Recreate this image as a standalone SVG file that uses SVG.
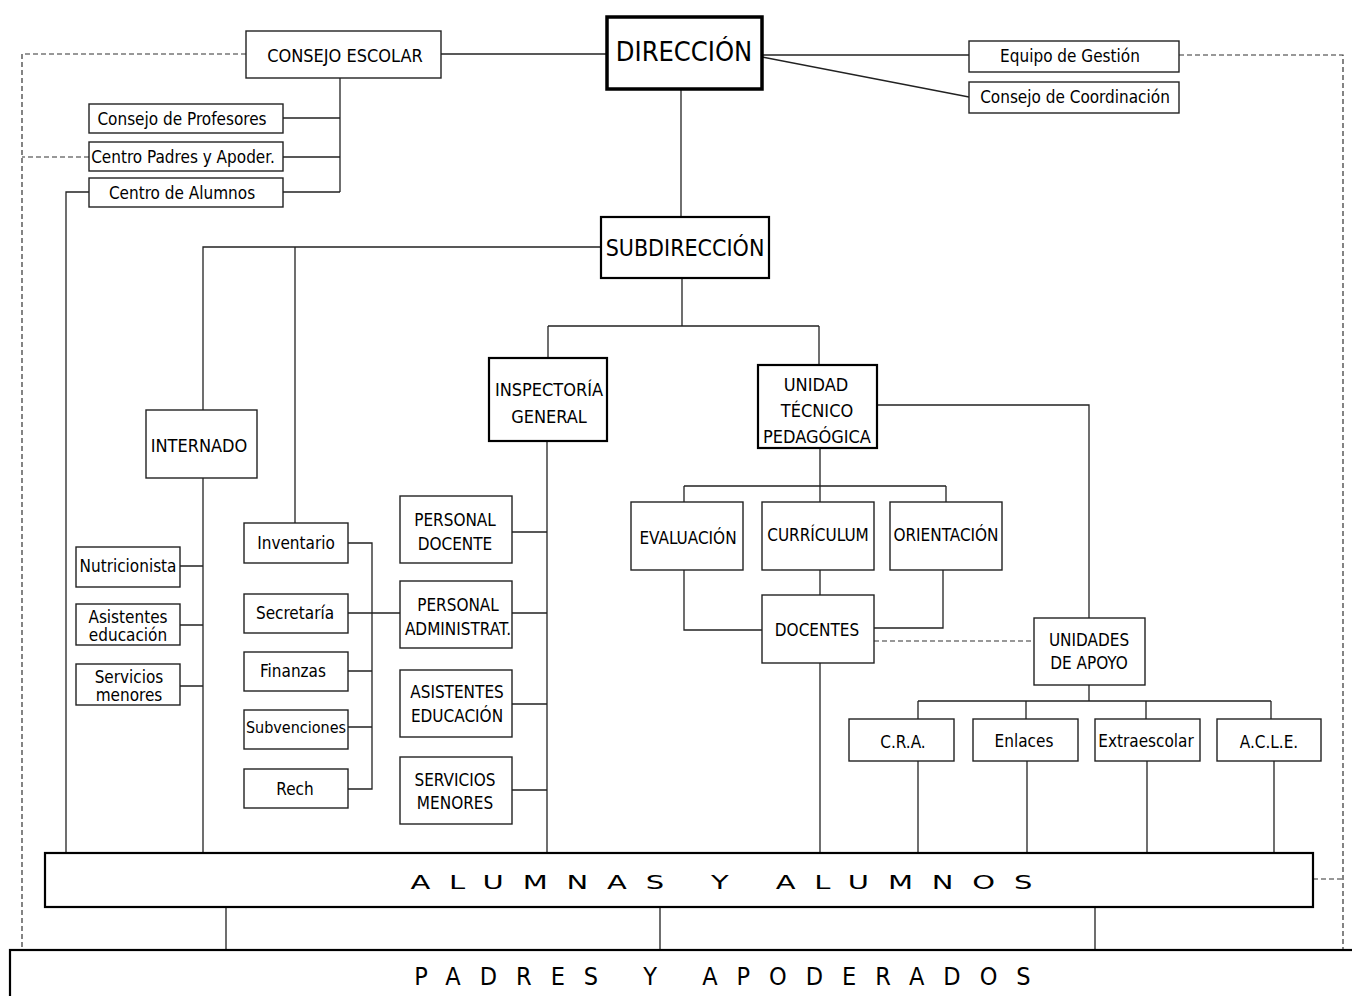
<svg xmlns="http://www.w3.org/2000/svg" width="1352" height="996" viewBox="0 0 1352 996">
<style>
.b{fill:#fff;stroke:#222;stroke-width:1.4}
.bt{fill:#fff;stroke:#000;stroke-width:2.2}
.bx{fill:#fff;stroke:#000;stroke-width:3.5}
.l{fill:none;stroke:#222;stroke-width:1.3}
.d{fill:none;stroke:#333;stroke-width:1.2;stroke-dasharray:5 3}
text{font-family:"Liberation Sans Narrow","DejaVu Sans Condensed","Liberation Sans",sans-serif;fill:#000;text-anchor:middle;dominant-baseline:central}
.s{font-size:17px}
.m{font-size:18px}
.w{font-family:"DejaVu Sans","Liberation Sans",sans-serif;font-size:20px;letter-spacing:13px}
.p{font-size:25px;letter-spacing:19px}
</style>
<rect width="1352" height="996" fill="#fff"/>
<g id="connectors">
<path class="d" d="M246 54H22V950"/>
<path class="d" d="M89 157H22"/>
<path class="d" d="M1179 55H1343V950"/>
<path class="d" d="M1313 879H1343"/>
<path class="d" d="M874 641H1034"/>
<path class="l" d="M441 54H606"/>
<path class="l" d="M762 55H969"/>
<path class="l" d="M762 57L969 97"/>
<path class="l" d="M340 78V192"/>
<path class="l" d="M283 118H340M283 157H340M283 192H340"/>
<path class="l" d="M89 192H66V853"/>
<path class="l" d="M681 90V217"/>
<path class="l" d="M601 247H203V410M295 247V523"/>
<path class="l" d="M682 278V326M548 326H819M548 326V358M819 326V365"/>
<path class="l" d="M203 478V853M180 566H203M180 625H203M180 686H203"/>
<path class="l" d="M348 543H372V789H348M348 671H372M348 727H372M348 613H400"/>
<path class="l" d="M547 441V853M512 532H547M512 613H547M512 704H547M512 790H547"/>
<path class="l" d="M877 405H1089V618"/>
<path class="l" d="M820 448V502M684 486H946M684 486V502M946 486V502"/>
<path class="l" d="M684 570V630H762M820 570V595M943 570V628H874"/>
<path class="l" d="M820 663V853"/>
<path class="l" d="M1089 685V701M918 701H1271M918 701V719M1026 701V719M1146 701V719M1271 701V719"/>
<path class="l" d="M918 761V853M1027 761V853M1147 761V853M1274 761V853"/>
<path class="l" d="M226 907V950M660 907V950M1095 907V950"/>
</g>
<g id="direccion"><rect class="bx" x="607" y="17" width="155" height="72"/><text x="684" y="51" style="font-size:27px">DIRECCIÓN</text></g>
<g id="consejo-escolar"><rect class="b" x="246" y="31" width="195" height="47"/><text class="m" x="345" y="55">CONSEJO ESCOLAR</text></g>
<g id="consejo-profesores"><rect class="b" x="89" y="104" width="194" height="29"/><text class="s" x="182" y="119">Consejo de Profesores</text></g>
<g id="centro-padres"><rect class="b" x="89" y="142" width="194" height="29"/><text class="s" x="183" y="157">Centro Padres y Apoder.</text></g>
<g id="centro-alumnos"><rect class="b" x="89" y="178" width="194" height="29"/><text class="s" x="182" y="193">Centro de Alumnos</text></g>
<g id="equipo-gestion"><rect class="b" x="969" y="41" width="210" height="31"/><text class="s" x="1070" y="56">Equipo de Gestión</text></g>
<g id="consejo-coordinacion"><rect class="b" x="969" y="82" width="210" height="31"/><text class="s" x="1075" y="97">Consejo de Coordinación</text></g>
<g id="subdireccion"><rect class="bt" x="601" y="217" width="168" height="61"/><text x="685" y="248" style="font-size:23px">SUBDIRECCIÓN</text></g>
<g id="internado"><rect class="b" x="146" y="410" width="111" height="68"/><text class="m" x="199" y="445">INTERNADO</text></g>
<g id="inspectoria"><rect class="bt" x="489" y="358" width="118" height="83"/><text class="m" x="549" y="389">INSPECTORÍA</text><text class="m" x="549" y="416">GENERAL</text></g>
<g id="utp"><rect class="bt" x="758" y="365" width="119" height="83"/><text class="m" x="816" y="384">UNIDAD</text><text class="m" x="817" y="410">TÉCNICO</text><text class="m" x="817" y="436">PEDAGÓGICA</text></g>
<g id="nutricionista"><rect class="b" x="76" y="547" width="104" height="40"/><text class="s" x="128" y="566">Nutricionista</text></g>
<g id="asistentes-edu"><rect class="b" x="76" y="604" width="104" height="41"/><text class="s" x="128" y="617">Asistentes</text><text class="s" x="128" y="635">educación</text></g>
<g id="servicios-men"><rect class="b" x="76" y="664" width="104" height="41"/><text class="s" x="129" y="677">Servicios</text><text class="s" x="129" y="695">menores</text></g>
<g id="inventario"><rect class="b" x="244" y="523" width="104" height="40"/><text class="s" x="296" y="543">Inventario</text></g>
<g id="secretaria"><rect class="b" x="244" y="594" width="104" height="39"/><text class="s" x="295" y="613">Secretaría</text></g>
<g id="finanzas"><rect class="b" x="244" y="652" width="104" height="39"/><text class="s" x="293" y="671">Finanzas</text></g>
<g id="subvenciones"><rect class="b" x="244" y="710" width="104" height="39"/><text class="s" x="296" y="727" style="font-size:16px">Subvenciones</text></g>
<g id="rech"><rect class="b" x="244" y="769" width="104" height="39"/><text class="s" x="295" y="789">Rech</text></g>
<g id="personal-docente"><rect class="b" x="400" y="496" width="112" height="67"/><text class="s" x="455" y="520">PERSONAL</text><text class="s" x="455" y="544">DOCENTE</text></g>
<g id="personal-admin"><rect class="b" x="400" y="581" width="112" height="67"/><text class="s" x="458" y="605">PERSONAL</text><text class="s" x="458" y="629">ADMINISTRAT.</text></g>
<g id="asistentes-educacion"><rect class="b" x="400" y="670" width="112" height="67"/><text class="s" x="457" y="692">ASISTENTES</text><text class="s" x="457" y="716">EDUCACIÓN</text></g>
<g id="servicios-menores"><rect class="b" x="400" y="757" width="112" height="67"/><text class="s" x="455" y="780">SERVICIOS</text><text class="s" x="455" y="803">MENORES</text></g>
<g id="evaluacion"><rect class="b" x="631" y="502" width="112" height="68"/><text class="s" x="688" y="538">EVALUACIÓN</text></g>
<g id="curriculum"><rect class="b" x="762" y="502" width="112" height="68"/><text class="s" x="818" y="535">CURRÍCULUM</text></g>
<g id="orientacion"><rect class="b" x="890" y="502" width="112" height="68"/><text class="s" x="946" y="535">ORIENTACIÓN</text></g>
<g id="docentes"><rect class="b" x="762" y="595" width="112" height="68"/><text class="s" x="817" y="630">DOCENTES</text></g>
<g id="unidades-apoyo"><rect class="b" x="1034" y="618" width="111" height="67"/><text class="s" x="1089" y="640">UNIDADES</text><text class="s" x="1089" y="663">DE APOYO</text></g>
<g id="cra"><rect class="b" x="849" y="719" width="105" height="42"/><text class="s" x="903" y="742">C.R.A.</text></g>
<g id="enlaces"><rect class="b" x="973" y="719" width="105" height="42"/><text class="s" x="1024" y="741">Enlaces</text></g>
<g id="extraescolar"><rect class="b" x="1095" y="719" width="105" height="42"/><text class="s" x="1146" y="741">Extraescolar</text></g>
<g id="acle"><rect class="b" x="1217" y="719" width="104" height="42"/><text class="s" x="1269" y="742">A.C.L.E.</text></g>
<g id="alumnos"><rect class="bt" x="45" y="853" width="1268" height="54" stroke-width="2.6"/><text class="w" transform="scale(1.45,1)" x="504" y="882">ALUMNAS Y ALUMNOS</text></g>
<g id="padres"><rect class="bt" x="10" y="950" width="1360" height="60" stroke-width="2.6"/><text class="p" x="732" y="976">PADRES  Y  APODERADOS</text></g>
</svg>
